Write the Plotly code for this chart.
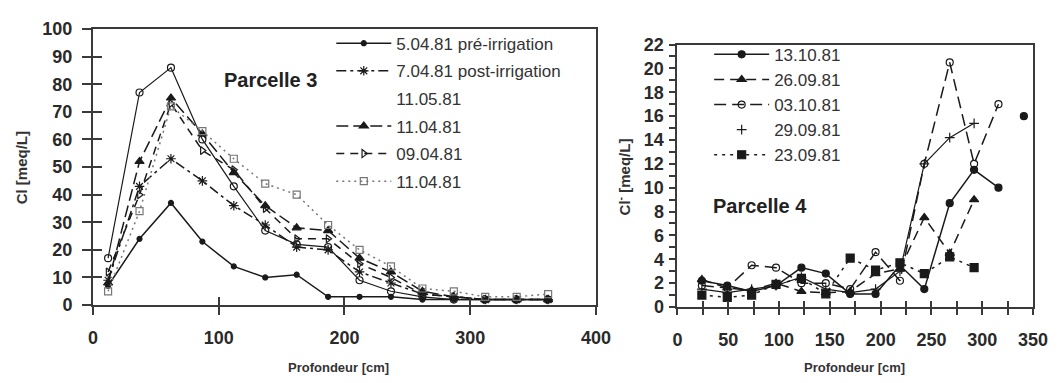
import plotly.graph_objects as go

# ---------------- data: Parcelle 3 ----------------
depth3 = [12, 37, 62, 87, 112, 137, 162, 187, 212, 237, 262, 287, 312, 337, 362]
pre_irrig_0504 = [7, 24, 37, 23, 14, 10, 11, 3, 3, 3, 2, 2, 2, 2, 2]
post_irrig_0704 = [9, 43, 53, 45, 36, 29, 21, 20, 12, 8, 4, 3, 2, 2, 2]
d_1105 = [17, 77, 86, 60, 43, 27, 22, 21, 9, 5, 3, 2, 2, 2, 2]
d_1104_tri = [8, 52, 75, 62, 48, 36, 28, 27, 17, 12, 5, 3, 2, 2, 2]
d_0904 = [12, 40, 73, 56, 49, 35, 24, 24, 15, 10, 4, 3, 2, 2, 2]
d_1104_sq = [5, 34, 72, 63, 53, 44, 40, 29, 20, 14, 6, 5, 3, 3, 4]

# ---------------- data: Parcelle 4 ----------------
depth4 = [24, 49, 73, 97, 122, 146, 170, 195, 219, 243, 268, 292, 316]
d_1310 = [2.2, 1.8, 1.3, 1.8, 3.3, 2.8, 1.1, 1.1, 3.5, 1.5, 8.7, 11.5, 10.0]
iso_depth = [341]
iso_val = [16.0]
d_2609 = [2.3, 1.6, 1.4, 2.0, 1.3, 1.2, 1.3, 2.8, 3.2, 7.5, 4.5, 9.0]
d_0310 = [1.8, 1.6, 3.5, 3.3, 2.0, 2.0, 1.5, 4.6, 2.2, 12.0, 20.5, 12.0, 17.0]
d_2909 = [1.5, 1.2, 1.5, 1.8, 2.5, 1.5, 1.2, 1.5, 3.0, 12.0, 14.2, 15.4]
d_2309 = [1.0, 0.8, 1.0, 1.9, 2.4, 1.1, 4.1, 3.1, 3.7, 2.8, 4.2, 3.3]

ticks_x3 = [0, 100, 200, 300, 400]
ticks_y3 = list(range(0, 101, 10))
ticks_x4 = list(range(0, 351, 25))
ticks_y4 = list(range(0, 23))

FONT = "Liberation Sans"
INK = "#1a1a1a"

fig = go.Figure()

def add(x, y, name, dash, symbol, size, color=INK, width=1.5, xa="x", ya="y",
        legend="legend", group=None, showlegend=True, mode="lines+markers", mlw=1.2):
    fig.add_trace(go.Scatter(
        x=x, y=y, name=name, mode=mode, xaxis=xa, yaxis=ya,
        line=dict(color=color, width=width, dash=dash),
        marker=dict(symbol=symbol, size=size, color=color,
                    line=dict(color=color, width=mlw)),
        legend=legend, legendgroup=group or name, showlegend=showlegend,
    ))

# Parcelle 3
add(depth3, pre_irrig_0504, "5.04.81 pré-irrigation", "solid", "circle", 5, group="g1")
add(depth3, post_irrig_0704, "7.04.81 post-irrigation", "10px,4px,3px,4px", "asterisk-open", 8, group="g2")
add(depth3, d_1105, "11.05.81", "solid", "circle-open", 7, width=1.2, group="g3", showlegend=False)
fig.add_trace(go.Scatter(x=[None], y=[None], name="11.05.81", mode="lines",
                         line=dict(color="rgba(0,0,0,0)"), legend="legend",
                         legendgroup="g3", showlegend=True))
add(depth3, d_1104_tri, "11.04.81", "12px,5px", "triangle-up", 8, group="g4")
add(depth3, d_0904, "09.04.81", "8px,6px", "triangle-right-open", 7, group="g5")
add(depth3, d_1104_sq, "11.04.81 ", "2px,4px", "square-open", 7, color="#777777", group="g6")

# Parcelle 4
add(depth4, d_1310, "13.10.81", "solid", "circle", 7, xa="x2", ya="y2", legend="legend2", group="h1")
add(iso_depth, iso_val, "13.10.81", "solid", "circle", 7, xa="x2", ya="y2", legend="legend2",
    group="h1", showlegend=False, mode="markers")
add(depth4[:len(d_2609)], d_2609, "26.09.81", "10px,6px", "triangle-up", 8, xa="x2", ya="y2",
    legend="legend2", group="h2")
add(depth4, d_0310, "03.10.81", "12px,6px", "circle-open", 7, xa="x2", ya="y2",
    legend="legend2", group="h3")
add(depth4[:len(d_2909)], d_2909, "29.09.81", "solid", "cross-thin-open", 7, width=1.2,
    xa="x2", ya="y2", legend="legend2", group="h4", showlegend=False, mode="lines")
add(depth4[:len(d_2909)], d_2909, "29.09.81", "solid", "cross-thin-open", 7, xa="x2", ya="y2",
    legend="legend2", group="h4", mode="markers")
add(depth4[:len(d_2309)], d_2309, "23.09.81", "3px,5px", "square", 8, xa="x2", ya="y2",
    legend="legend2", group="h5")

AX = "#3a3a3a"
tickfont = dict(family=FONT, size=18, color="#2a2a2a", weight="bold")
common = dict(showline=True, linewidth=2, linecolor=AX, mirror=True, showgrid=False,
              zeroline=False, ticks="outside", tickcolor=AX, tickwidth=2, tickfont=tickfont)

L3 = [0, 0.535]
L4 = [0.6218, 1]
Y3 = [0.0069, 1]
Y4 = [0, 0.944]

# the page body adds an 8px offset, so the figure is 8px smaller each way
fig.update_layout(
    width=1051, height=375,
    margin=dict(l=85, r=22, t=11, b=76),
    paper_bgcolor="white", plot_bgcolor="white",
    font=dict(family=FONT, color=INK),
    xaxis=dict(domain=L3, range=[0, 400], tickvals=ticks_x3, ticklen=8,
               ticklabelstandoff=7, anchor="y", **common),
    yaxis=dict(domain=Y3, range=[0, 100], tickvals=ticks_y3, ticklen=9,
               ticklabelstandoff=6, anchor="x", **common),
    xaxis3=dict(overlaying="x", matches="x", anchor="y", tickvals=ticks_x3, ticks="inside",
                ticklen=8, tickwidth=2, tickcolor=AX, showticklabels=False, showline=False,
                showgrid=False, zeroline=False),
    yaxis3=dict(overlaying="y", matches="y", anchor="x", tickvals=ticks_y3, ticks="inside",
                ticklen=9, tickwidth=2, tickcolor=AX, showticklabels=False, showline=False,
                showgrid=False, zeroline=False),
    xaxis2=dict(domain=L4, range=[0, 350], tickvals=ticks_x4,
                ticktext=[str(v) if v % 50 == 0 else "" for v in ticks_x4],
                ticklen=6, ticklabelstandoff=9, anchor="y2", **common),
    yaxis2=dict(domain=Y4, range=[0, 22], tickvals=ticks_y4,
                ticktext=[str(v) if v % 2 == 0 else "" for v in ticks_y4],
                ticklen=6, ticklabelstandoff=2, anchor="x2", **common),
    xaxis4=dict(overlaying="x2", matches="x2", anchor="y2", tickvals=ticks_x4, ticks="inside",
                ticklen=6, tickwidth=2, tickcolor=AX, showticklabels=False, showline=False,
                showgrid=False, zeroline=False),
    legend=dict(x=0.2535, y=1.012, xanchor="left", yanchor="top", bgcolor="rgba(0,0,0,0)",
                font=dict(family=FONT, size=17, color="#333333"), itemwidth=55,
                traceorder="grouped", tracegroupgap=2.5),
    legend2=dict(x=0.6555, y=0.972, xanchor="left", yanchor="top", bgcolor="rgba(0,0,0,0)",
                 font=dict(family=FONT, size=17, color="#333333"), itemwidth=55,
                 traceorder="grouped", tracegroupgap=0),
    showlegend=True,
)

# invisible anchor traces so the overlay axes are drawn
fig.add_trace(go.Scatter(x=[None], y=[None], xaxis="x3", yaxis="y3", showlegend=False))
fig.add_trace(go.Scatter(x=[None], y=[None], xaxis="x4", yaxis="y2", showlegend=False))

ann = dict(xref="paper", yref="paper", showarrow=False, xanchor="center", yanchor="middle")
fig.add_annotation(x=(271 - 93) / 944, y=(307 - 72) / 288, text="<b>Parcelle 3</b>",
                   font=dict(family=FONT, size=20, color="#222"), **ann)
fig.add_annotation(x=(763 - 93) / 944, y=(307 - 202) / 288, text="<b>Parcelle 4</b>",
                   font=dict(family=FONT, size=20, color="#222"), **ann)
fig.add_annotation(x=(340 - 93) / 944, y=(307 - 370) / 288, text="<b>Profondeur [cm]</b>",
                   font=dict(family=FONT, size=13, color="#333"), **ann)
fig.add_annotation(x=(858 - 93) / 944, y=(307 - 370) / 288, text="<b>Profondeur [cm]</b>",
                   font=dict(family=FONT, size=13, color="#333"), **ann)
fig.add_annotation(x=(21 - 93) / 944, y=(307 - 163) / 288, text="<b>Cl [meq/L]</b>",
                   textangle=-90, font=dict(family=FONT, size=15, color="#333"), **ann)
fig.add_annotation(x=(626 - 93) / 944, y=(307 - 172) / 288, text="<b>Cl<sup>-</sup> [meq/L]</b>",
                   textangle=-90, font=dict(family=FONT, size=15, color="#333"), **ann)

fig.write_html("out.html")
